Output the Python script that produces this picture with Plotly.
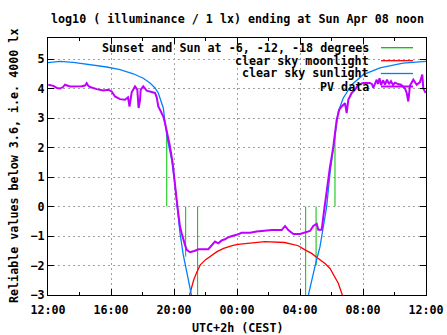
import pandas as pd
import plotly.graph_objects as go

BASE = pd.Timestamp("2018-04-07 12:00")

# ---- data (hours after Sat 12:00, log10 lux) ----
pv_h = [0.019, 0.336, 0.571, 0.762, 0.952, 1.079, 1.397, 1.822, 2.14, 2.349, 2.457, 2.54, 2.667,
        3.092, 3.511, 3.829, 4.044, 4.254, 4.571, 4.889, 5.079, 5.175, 5.27, 5.314, 5.524, 5.67,
        5.752, 5.841, 5.886, 6.051, 6.267, 6.584, 6.794, 6.902, 7.003, 7.111, 7.321, 7.429, 7.638,
        7.746, 7.917, 7.956, 8.063, 8.171, 8.273, 8.381, 8.489, 8.59, 8.698, 8.806, 9.016, 9.333,
        9.543, 10.178, 10.394, 10.603, 10.813, 11.029, 11.238, 11.448, 11.746, 11.981, 12.298,
        12.825, 13.251, 13.778, 14.203, 14.838, 15.048, 15.257, 15.575, 16.0, 16.317, 16.635,
        16.844, 17.06, 17.162, 17.378, 17.48, 17.587, 17.695, 17.797, 17.905, 18.013, 18.114,
        18.33, 18.495, 18.648, 18.749, 18.857, 18.965, 19.067, 19.283, 19.492, 19.702, 20.019,
        20.444, 20.571, 20.654, 20.87, 20.95, 21.048, 21.143, 21.27, 21.397, 21.524, 21.651,
        21.778, 21.905, 22.032, 22.222, 22.413, 22.667, 22.775, 22.876, 22.952, 22.984, 23.194,
        23.41, 23.619, 23.765, 23.829, 23.981]
pv_v = [4.13, 4.09, 4.02, 4.0, 4.05, 4.13, 4.07, 4.07, 4.08, 4.1, 4.18, 4.1, 4.05,
        3.98, 3.93, 3.96, 3.9, 3.73, 3.64, 3.62, 3.7, 3.39, 3.72, 3.87, 4.07, 3.96,
        3.34, 3.6, 3.96, 4.07, 3.93, 3.87, 3.85, 3.7, 3.39, 3.28, 3.05, 2.83, 2.37,
        2.03, 1.47, 1.24, 0.79, 0.22, -0.23, -0.68, -0.91, -1.13, -1.3, -1.47, -1.55, -1.5,
        -1.45, -1.45, -1.3, -1.19, -1.25, -1.15, -1.11, -1.04, -0.99, -0.96, -0.89,
        -0.89, -0.85, -0.82, -0.8, -0.8, -0.66, -0.8, -0.93, -0.93, -0.88, -0.83,
        -0.66, -0.59, -0.79, -0.79, -0.34, 0.1, 0.45, 1.01, 1.35, 1.69, 2.03,
        2.94, 3.28, 3.39, 3.45, 3.5, 3.17, 3.62, 3.85, 3.96, 4.13, 4.19,
        4.19, 4.15, 4.02, 4.3, 4.15, 4.35, 4.12, 4.28, 4.13, 4.3, 4.15,
        4.25, 4.12, 4.2, 4.15, 4.13, 4.0, 3.85, 3.56, 3.9, 4.1, 4.3,
        4.13, 4.22, 4.47, 4.0, 3.85]

sun_h = [0.0, 0.762, 1.606, 2.667, 3.727, 4.571, 5.416, 6.051, 6.476, 6.794, 7.003, 7.219, 7.321,
         7.429, 7.575, 7.854, 8.063, 8.381, 8.527, 8.59, 8.87, 9.124, 9.333, None,
         16.317, 16.527, 16.952, 17.27, 17.48, 17.695, 17.905, 18.114, 18.432, 18.749, 19.283,
         20.019, 21.079, 22.54, 24.0]
sun_v = [4.88, 4.92, 4.89, 4.81, 4.73, 4.64, 4.5, 4.35, 4.19, 4.02, 3.85, 3.5, 3.34,
         2.85, 2.3, 1.58, 0.73, -0.9, -1.47, -1.64, -2.38, -3.0, -3.6, None,
         -3.5, -3.0, -2.03, -1.36, -0.68, 0.0, 1.13, 2.03, 3.22, 3.68, 4.13,
         4.47, 4.7, 4.86, 4.92]

moon_h = [8.99, 9.249, 9.46, 9.67, 9.988, 10.305, 10.73, 11.153, 11.47, 11.746, 12.063, 12.698,
          13.757, 15.027, 15.45, 15.89, 16.317, 16.74, 17.16, 17.587, 17.905, 18.22, 18.43, 18.65, 18.75]
moon_v = [-3.0, -2.49, -2.21, -1.98, -1.81, -1.7, -1.53, -1.42, -1.36, -1.32, -1.28, -1.25,
          -1.19, -1.22, -1.27, -1.33, -1.47, -1.59, -1.76, -1.93, -2.1, -2.38, -2.6, -2.94, -3.1]

# sunset, -6, -12, -18 deg (evening) and -18, -12, -6, sunrise (morning)
event_h = [7.54, 8.13, 8.74, 9.5, 16.36, 17.02, 17.68, 18.22]
event_v = [2.6, 0.05, -1.7, -3.5, -3.5, -2.0, 0.05, 2.37]

legend_labels = ["Sunset and Sun at -6, -12, -18 degrees", "clear sky moonlight",
                 "clear sky sunlight", "PV data"]
legend_colors = ["#00c000", "#ff0000", "#0080ff", "#c000ff"]


def to_time(hours):
    return [None if h is None else BASE + pd.Timedelta(hours=h) for h in hours]


imp_x, imp_y = [], []
for h, v in zip(event_h, event_v):
    tt = BASE + pd.Timedelta(hours=h)
    imp_x += [tt, tt, None]
    imp_y += [0, v, None]

fig = go.Figure()
fig.add_trace(go.Scatter(x=imp_x, y=imp_y, mode="lines",
                         line=dict(color=legend_colors[0], width=1), connectgaps=False))
fig.add_trace(go.Scatter(x=to_time(moon_h), y=moon_v, mode="lines",
                         line=dict(color=legend_colors[1], width=1.3)))
fig.add_trace(go.Scatter(x=to_time(sun_h), y=sun_v, mode="lines",
                         line=dict(color=legend_colors[2], width=1.3), connectgaps=False))
fig.add_trace(go.Scatter(x=to_time(pv_h), y=pv_v, mode="lines",
                         line=dict(color=legend_colors[3], width=2)))

FONT = "DejaVu Sans Mono"
FS = 11.7

W, H = 447, 335
L, R, T, B = 48, 21, 38, 40
pw, ph = W - L - R, H - T - B


def px2paper(px, py):
    return (px - L) / pw, (H - B - py) / ph


# opaque key area hides the grid
x0, y0 = px2paper(100, 93)
x1, y1 = px2paper(418, 38)
shapes = [dict(type="rect", xref="paper", yref="paper", x0=x0, x1=x1, y0=y0, y1=y1,
               fillcolor="white", line=dict(width=0), layer="between")]
annotations = []
rows_py = [47.7, 60.7, 73.5, 86.5]
for lab, col, py in zip(legend_labels, legend_colors, rows_py):
    tx, ty = px2paper(371, py)
    lx0, _ = px2paper(381, py)
    lx1, _ = px2paper(413, py)
    shapes.append(dict(type="line", xref="paper", yref="paper", x0=lx0, x1=lx1, y0=ty, y1=ty,
                       line=dict(color=col, width=2 if col == "#c000ff" else 1.3)))
    annotations.append(dict(text=lab, xref="paper", yref="paper", x=tx, y=ty, xanchor="right",
                            yanchor="middle", showarrow=False,
                            font=dict(family=FONT, size=FS, color="black", weight="bold")))

annotations.append(dict(text="log10 ( illuminance / 1 lx) ending at Sun Apr 08 noon",
                        xref="paper", yref="paper", x=0.5, y=(H - B - 19) / ph,
                        xanchor="center", yanchor="middle", showarrow=False,
                        font=dict(family=FONT, size=FS, color="black", weight="bold")))
annotations.append(dict(text="UTC+2h (CEST)", xref="paper", yref="paper", x=0.5,
                        y=(H - B - 328) / ph, xanchor="center", yanchor="middle", showarrow=False,
                        font=dict(family=FONT, size=FS, color="black", weight="bold")))
annotations.append(dict(text="Reliable values below 3.6, i.e. 4000 lx", xref="paper", yref="paper",
                        x=(13.5 - L) / pw, y=0.5, xanchor="center", yanchor="middle",
                        textangle=-90, showarrow=False,
                        font=dict(family=FONT, size=FS, color="black", weight="bold")))

fig.update_layout(
    width=W, height=H, margin=dict(l=L, r=R, t=T, b=B, autoexpand=False),
    paper_bgcolor="white", plot_bgcolor="white", showlegend=False,
    font=dict(family=FONT, size=FS, color="black", weight="bold"),
    shapes=shapes, annotations=annotations,
)
fig.update_xaxes(
    type="date", range=[BASE, BASE + pd.Timedelta(hours=24)], automargin=False,
    dtick=4 * 3600 * 1000, tick0=BASE, tickformat="%H:%M",
    ticks="inside", ticklen=6, tickcolor="black", ticklabelstandoff=4,
    minor=dict(dtick=2 * 3600 * 1000, ticks="inside", ticklen=3, tickcolor="black", showgrid=False),
    showline=True, linecolor="black", linewidth=1, mirror="ticks",
    showgrid=True, gridcolor="#a0a0a0", griddash="2px,3px", gridwidth=1,
    zeroline=False, tickfont=dict(family=FONT, size=FS, weight="bold"),
)
fig.update_yaxes(
    range=[-3, 5.713], tickmode="linear", tick0=-3, dtick=1, automargin=False,
    ticks="inside", ticklen=6, tickcolor="black",
    showline=True, linecolor="black", linewidth=1, mirror="ticks",
    showgrid=True, gridcolor="#a0a0a0", griddash="2px,3px", gridwidth=1,
    zeroline=False, tickfont=dict(family=FONT, size=FS, weight="bold"),
)

fig.write_html("out.html")
